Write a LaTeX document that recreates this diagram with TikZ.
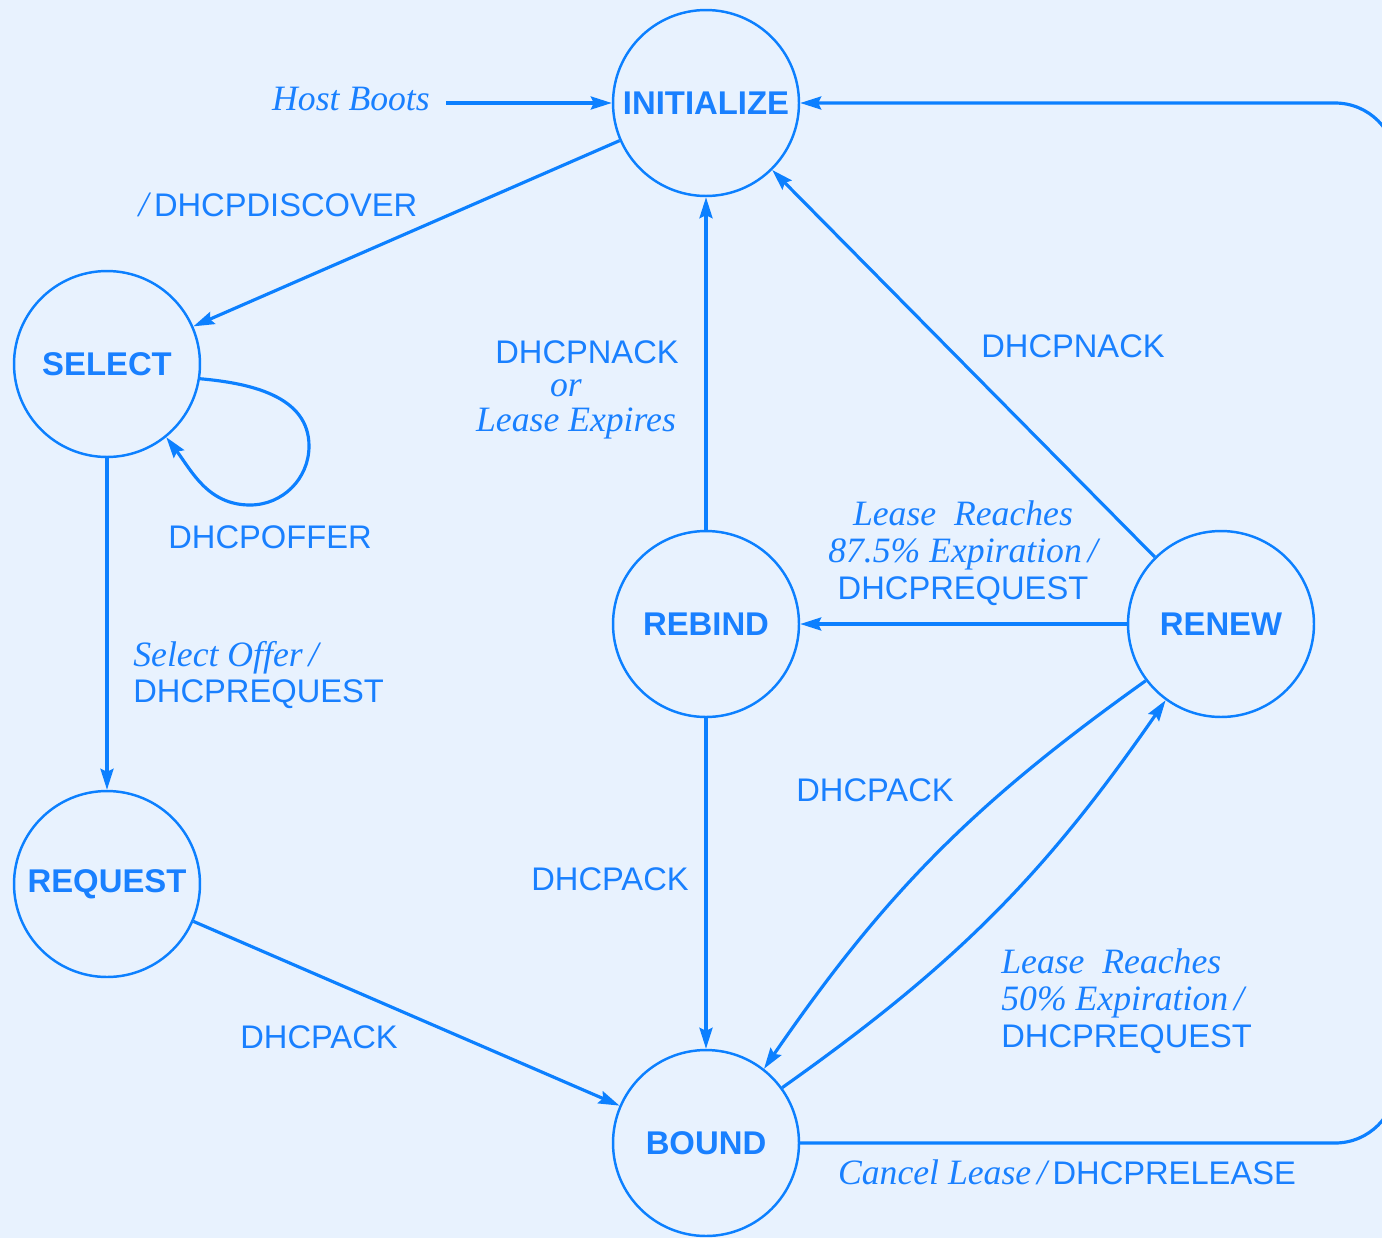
\documentclass[tikz,border=0pt]{standalone}
\usepackage{fontspec}
\setsansfont{Liberation Sans}
\newfontfamily\serifit{Liberation Serif}
\usetikzlibrary{arrows.meta}
\definecolor{bg}{RGB}{232,242,254}
\definecolor{ln}{RGB}{12,128,255}
\definecolor{tx}{RGB}{25,128,255}
\newcommand\myitfont{\fontsize{20.3}{21}\selectfont\serifit\itshape}
\newcommand\myit[1]{{\myitfont #1}}
\begin{document}
\begin{tikzpicture}[x=0.02cm,y=-0.02cm,
  state/.style={circle,draw=ln,line width=1.4pt,minimum size=3.72cm,inner sep=0pt,text=tx,font=\sffamily\bfseries\fontsize{18.7}{20}\selectfont},
  lab/.style={text=tx,inner sep=0pt,font=\sffamily\fontsize{18.6}{21}\selectfont},
  ilab/.style={text=tx,inner sep=0pt,font=\myitfont},
  arr/.style={draw=ln,line width=1.8pt,-{Stealth[length=0.42cm,width=0.26cm,inset=0.06cm]}}]
\fill[bg] (0,0) rectangle (1382,1238);
\useasboundingbox (0,0) rectangle (1382,1238);

% states
\node[state] (init)   at (706,103)  {INITIALIZE};
\node[state] (select) at (107,364)  {SELECT};
\node[state] (req)    at (107,884)  {REQUEST};
\node[state] (rebind) at (706,624)  {REBIND};
\node[state] (renew)  at (1221,624) {RENEW};
\node[state] (bound)  at (706,1143) {BOUND};

% labels
\node[ilab] (hb) at (351,99) {Host Boots};
\node[lab] (ldisc) at (278,205) {\myit{/}\,DHCPDISCOVER};
\node[lab] (loffer) at (270,537) {DHCPOFFER};
\node[lab,align=left,anchor=west] (lsel) at (133,675) {\myit{Select Offer\,/}\\DHCPREQUEST};
\node[lab] (lack1) at (319,1037) {DHCPACK};
\node[lab] (lack2) at (610,879) {DHCPACK};
\node[lab] (lnack1) at (587,352) {DHCPNACK};
\node[ilab] (lor) at (566,388) {or};
\node[ilab] (lexp) at (576,423) {Lease Expires};
\node[lab] (lnack2) at (1073,346) {DHCPNACK};
\node[lab,align=center] (l875) at (963,553) {\myit{Lease\ \ Reaches}\\\myit{87.5\% Expiration\,/}\\DHCPREQUEST};
\node[lab] (lack3) at (875,790) {DHCPACK};
\node[lab,align=left,anchor=west] (l50) at (1001,1001) {\myit{Lease\ \ Reaches}\\\myit{50\% Expiration\,/}\\DHCPREQUEST};
\node[lab] (lcancel) at (1067,1172) {\myit{Cancel Lease\,/}\,DHCPRELEASE};

% transitions
\draw[arr,shorten <=0.32cm] (hb.east |- init.west) -- (init.west);
\draw[arr] (init) -- (select);
\draw[arr] (select.-9) to[out=-5,in=90] (309,446) to[out=-90,in=0] (250,505) to[out=180,in=-53] (select.-51);
\draw[arr] (select) -- (req);
\draw[arr] (req) -- (bound);
\draw[arr] (rebind) -- (init);
\draw[arr] (rebind) -- (bound);
\draw[arr] (renew) -- (init);
\draw[arr] (renew) -- (rebind);
\draw[arr] (renew.217) to[bend right=10] (bound.52);
\draw[arr] (bound.36) to[bend right=10] (renew.234);
\draw[arr,rounded corners=1.22cm] (bound.east) -- (1396,1143) -- (1396,103) -- (init.east);
\end{tikzpicture}
\end{document}
